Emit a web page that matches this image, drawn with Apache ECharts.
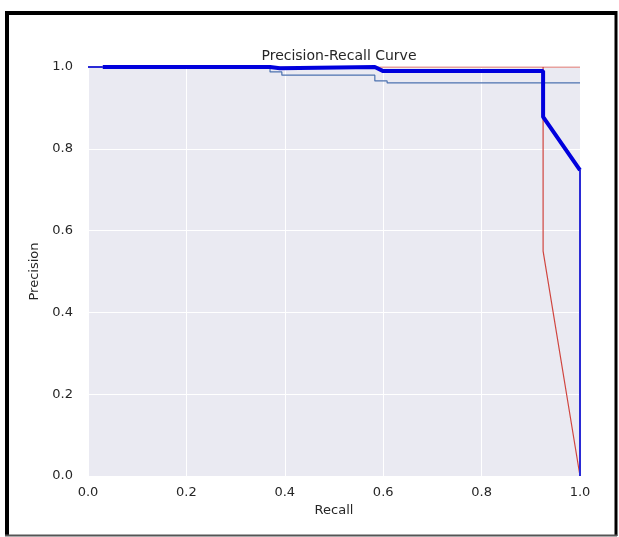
<!DOCTYPE html>
<html>
<head>
<meta charset="utf-8">
<script src="https://cdn.jsdelivr.net/npm/echarts@6/dist/echarts.min.js"></script>
<style>
  html, body { margin: 0; padding: 0; background: #fff; }
  #main { width: 619px; height: 537px; }
</style>
</head>
<body>
<div id="main"></div>
<script>
// tick labels
var xTicks = [0.0, 0.2, 0.4, 0.6, 0.8, 1.0];
var yTicks = [0.0, 0.2, 0.4, 0.6, 0.8, 1.0];

// thick blue curve [recall, precision]
var thickRecall    = [0.03, 0.37, 0.372, 0.39, 0.394, 0.583, 0.60, 0.925, 0.925, 1.0];
var thickPrecision = [1.0,  1.0,  0.997, 0.997, 1.0,  1.0,   0.990, 0.990, 0.878, 0.748];

// thin steel-blue curve
var steelRecall    = [0.0, 0.37, 0.37, 0.394, 0.394, 0.583, 0.583, 0.608, 0.608, 1.0];
var steelPrecision = [1.0, 1.0,  0.988, 0.988, 0.980, 0.980, 0.966, 0.966, 0.961, 0.961];

// red curve
var redRecall    = [0.0, 0.925, 1.0, null, 0.925, 0.925, 1.0];
var redPrecision = [1.0, 1.0,   1.0, null, 1.0,   0.55,  0.0];

// thin blue end pieces
var blueRecall    = [0.0, 0.03, null, 1.0,   1.0];
var bluePrecision = [1.0, 1.0,  null, 0.748, 0.0];

function pairs(xs, ys) {
  var out = [];
  for (var i = 0; i < xs.length; i++) {
    out.push(xs[i] === null ? ['-', '-'] : [xs[i], ys[i]]);
  }
  return out;
}

var myChart = echarts.init(document.getElementById('main'), null, { renderer: 'canvas' });

var txt = '#262626';
var fnt = 'DejaVu Sans';

var option = {
  backgroundColor: '#ffffff',
  animation: false,
  title: {
    text: 'Precision-Recall Curve',
    left: 334, textAlign: 'center',
    top: 44,
    textStyle: { fontFamily: fnt, fontSize: 14, fontWeight: 'normal', color: txt }
  },
  grid: { left: 88, right: 39, top: 67, bottom: 61, show: true, backgroundColor: '#eaeaf2', borderWidth: 0 },
  xAxis: {
    type: 'value', min: 0, max: 1, interval: 0.2,
    name: 'Recall', nameLocation: 'middle', nameGap: 28,
    nameTextStyle: { fontFamily: fnt, fontSize: 13, color: txt },
    axisLine: { show: false }, axisTick: { show: false },
    axisLabel: { fontFamily: fnt, fontSize: 13, color: txt, margin: 10,
      formatter: function (v) { return xTicks.indexOf(+v.toFixed(1)) >= 0 ? v.toFixed(1) : ''; } },
    splitLine: { show: true, lineStyle: { color: '#ffffff', width: 1 } }
  },
  yAxis: {
    type: 'value', min: 0, max: 1, interval: 0.2,
    name: 'Precision', nameLocation: 'middle', nameGap: 45,
    nameTextStyle: { fontFamily: fnt, fontSize: 13, color: txt },
    axisLine: { show: false }, axisTick: { show: false },
    axisLabel: { fontFamily: fnt, fontSize: 13, color: txt, margin: 15,
      formatter: function (v) { return yTicks.indexOf(+v.toFixed(1)) >= 0 ? v.toFixed(1) : ''; } },
    splitLine: { show: true, lineStyle: { color: '#ffffff', width: 1 } }
  },
  series: [
    { type: 'line', name: 'steel', data: pairs(steelRecall, steelPrecision), showSymbol: false,
      lineStyle: { color: '#4c72b0', width: 1.2 }, z: 2 },
    { type: 'line', name: 'red', data: pairs(redRecall, redPrecision), showSymbol: false, connectNulls: false,
      lineStyle: { color: '#d0453f', width: 1.2 }, z: 3 },
    { type: 'line', name: 'blueThin', data: pairs(blueRecall, bluePrecision), showSymbol: false, connectNulls: false,
      lineStyle: { color: '#2a2ad6', width: 2 }, z: 4 },
    { type: 'line', name: 'thick', data: pairs(thickRecall, thickPrecision), showSymbol: false,
      lineStyle: { color: '#0000dd', width: 4 }, z: 5 }
  ],
  graphic: [
    { type: 'line', shape: { x1: 7, y1: 13, x2: 7, y2: 536 }, style: { stroke: '#000', lineWidth: 4 } },
    { type: 'line', shape: { x1: 5, y1: 13, x2: 617, y2: 13 }, style: { stroke: '#000', lineWidth: 4 } },
    { type: 'line', shape: { x1: 616, y1: 11, x2: 616, y2: 536 }, style: { stroke: '#000', lineWidth: 3 } },
    { type: 'line', shape: { x1: 5, y1: 535.5, x2: 617, y2: 535.5 }, style: { stroke: '#555', lineWidth: 2 } }
  ]
};

myChart.setOption(option);
</script>
</body>
</html>
